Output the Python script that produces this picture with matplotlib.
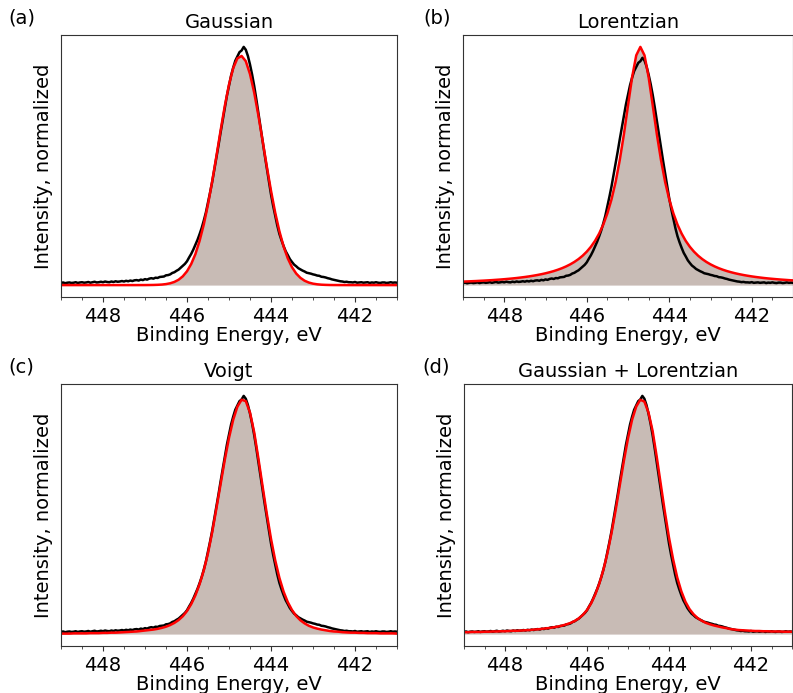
import matplotlib
matplotlib.use("Agg")
import matplotlib.pyplot as plt
from matplotlib.ticker import MultipleLocator

# Binding energy grids (eV)
energy = [round(449.0 - 0.1 * i, 2) for i in range(81)]        # fits
energy_meas = [round(449.0 - 0.05 * i, 2) for i in range(161)]  # measured spectrum

measured = [
    0.009, 0.011, 0.008, 0.010, 0.011, 0.009, 0.010, 0.012, 0.009, 0.011,
    0.012, 0.010, 0.011, 0.013, 0.010, 0.012, 0.014, 0.011, 0.012, 0.014,
    0.012, 0.015, 0.013, 0.012, 0.015, 0.013, 0.016, 0.014, 0.015, 0.017,
    0.015, 0.018, 0.016, 0.019, 0.017, 0.020, 0.021, 0.019, 0.023, 0.021,
    0.025, 0.023, 0.027, 0.029, 0.027, 0.031, 0.030, 0.034, 0.035, 0.036,
    0.041, 0.042, 0.045, 0.051, 0.054, 0.060, 0.065, 0.073, 0.081, 0.089,
    0.100, 0.116, 0.131, 0.149, 0.169, 0.190, 0.214, 0.240, 0.271, 0.305,
    0.346, 0.389, 0.434, 0.486, 0.536, 0.587, 0.641, 0.692, 0.744, 0.795,
    0.838, 0.880, 0.913, 0.942, 0.960, 0.978, 0.985, 1.000, 0.988, 0.962,
    0.926, 0.884, 0.836, 0.781, 0.722, 0.665, 0.606, 0.547, 0.491, 0.434,
    0.381, 0.334, 0.291, 0.250, 0.215, 0.188, 0.164, 0.142, 0.126, 0.109,
    0.097, 0.086, 0.079, 0.071, 0.066, 0.061, 0.057, 0.052, 0.050, 0.048,
    0.045, 0.043, 0.040, 0.039, 0.035, 0.034, 0.032, 0.029, 0.027, 0.024,
    0.022, 0.020, 0.018, 0.016, 0.015, 0.013, 0.014, 0.012, 0.012, 0.011,
    0.013, 0.010, 0.011, 0.012, 0.010, 0.011, 0.012, 0.009, 0.011, 0.010,
    0.012, 0.010, 0.009, 0.011, 0.011, 0.009, 0.010, 0.012, 0.010, 0.011,
    0.010,
]

# Fitted curves
fit_gauss = [
    0.0, 0.0, 0.0, 0.0, 0.0, 0.0, 0.0, 0.0, 0.0, 0.0,
    0.0, 0.0, 0.0, 0.0, 0.0, 0.0, 0.0, 0.0, 0.0, 0.0001,
    0.0001, 0.0003, 0.0006, 0.0012, 0.0022, 0.0042, 0.0076, 0.0133, 0.0225, 0.0368,
    0.058, 0.0885, 0.130, 0.186, 0.255, 0.339, 0.436, 0.541, 0.649, 0.752,
    0.842, 0.911, 0.952, 0.962, 0.940, 0.886, 0.808, 0.712, 0.606, 0.498,
    0.396, 0.304, 0.226, 0.162, 0.112, 0.075, 0.0485, 0.0304, 0.0183, 0.0107,
    0.0060, 0.0033, 0.0017, 0.0009, 0.0004, 0.0002, 0.0001, 0.0001, 0.0, 0.0,
    0.0, 0.0, 0.0, 0.0, 0.0, 0.0, 0.0, 0.0, 0.0, 0.0,
    0.0,
]

fit_lorentz = [
    0.0154, 0.0161, 0.0169, 0.0177, 0.0187, 0.0196, 0.0207, 0.0218, 0.0231, 0.0244,
    0.0259, 0.0275, 0.0292, 0.0311, 0.0333, 0.0356, 0.0382, 0.0411, 0.0443, 0.0479,
    0.0519, 0.0565, 0.0616, 0.0676, 0.0743, 0.0822, 0.0913, 0.1019, 0.1144, 0.1292,
    0.1470, 0.1684, 0.1944, 0.2265, 0.266, 0.3155, 0.377, 0.454, 0.550, 0.663,
    0.790, 0.915, 1.011, 1.048, 1.011, 0.915, 0.790, 0.663, 0.550, 0.454,
    0.377, 0.3155, 0.266, 0.2265, 0.1944, 0.1684, 0.1470, 0.1292, 0.1144, 0.1019,
    0.0913, 0.0822, 0.0743, 0.0676, 0.0616, 0.0565, 0.0519, 0.0479, 0.0443, 0.0411,
    0.0382, 0.0356, 0.0333, 0.0311, 0.0292, 0.0275, 0.0259, 0.0244, 0.0231, 0.0218,
    0.0207,
]

fit_voigt = [
    0.002, 0.002, 0.002, 0.003, 0.003, 0.003, 0.003, 0.004, 0.004, 0.004,
    0.005, 0.005, 0.006, 0.006, 0.007, 0.008, 0.009, 0.010, 0.011, 0.013,
    0.015, 0.017, 0.019, 0.022, 0.026, 0.031, 0.038, 0.047, 0.059, 0.075,
    0.097, 0.126, 0.163, 0.210, 0.268, 0.340, 0.428, 0.528, 0.630, 0.732,
    0.824, 0.900, 0.955, 0.984, 0.978, 0.930, 0.847, 0.737, 0.620, 0.505,
    0.400, 0.310, 0.236, 0.178, 0.134, 0.101, 0.076, 0.058, 0.045, 0.035,
    0.028, 0.023, 0.019, 0.016, 0.013, 0.011, 0.010, 0.008, 0.007, 0.006,
    0.006, 0.005, 0.005, 0.004, 0.004, 0.004, 0.003, 0.003, 0.003, 0.003,
    0.002,
]

fit_gl = [
    0.008, 0.008, 0.009, 0.009, 0.009, 0.010, 0.010, 0.011, 0.011, 0.012,
    0.012, 0.013, 0.014, 0.014, 0.015, 0.016, 0.017, 0.019, 0.020, 0.022,
    0.024, 0.026, 0.029, 0.032, 0.036, 0.041, 0.047, 0.055, 0.066, 0.081,
    0.101, 0.129, 0.166, 0.212, 0.270, 0.341, 0.426, 0.522, 0.625, 0.728,
    0.822, 0.900, 0.955, 0.984, 0.976, 0.930, 0.853, 0.745, 0.628, 0.512,
    0.405, 0.314, 0.238, 0.180, 0.136, 0.105, 0.083, 0.067, 0.056, 0.047,
    0.041, 0.036, 0.032, 0.028, 0.025, 0.021, 0.019, 0.017, 0.016, 0.015,
    0.014, 0.013, 0.013, 0.012, 0.012, 0.011, 0.011, 0.011, 0.010, 0.010,
    0.010,
]

titles = ["Gaussian", "Lorentzian", "Voigt", "Gaussian + Lorentzian"]
panel_labels = ["(a)", "(b)", "(c)", "(d)"]
fits = [fit_gauss, fit_lorentz, fit_voigt, fit_gl]

W, H = 793, 693
fig = plt.figure(figsize=(W / 100, H / 100), dpi=100)

# axes boxes in pixels: left, top, right, bottom
boxes = [(61, 35, 397, 297), (463, 35, 793, 297),
         (61, 384, 397, 646), (464, 384, 792, 646)]
label_x = [8, 423, 8, 422]

fill_color = "#c8bbb5"
spine_color = "#333333"
fs = 14

for k in range(4):
    l, t, r, b = boxes[k]
    ax = fig.add_axes([l / W, (H - b) / H, (r - l) / W, (b - t) / H])
    ax.fill_between(energy, fits[k], 0, color=fill_color, lw=0)
    ax.plot(energy_meas, measured, color="black", lw=1.8)
    ax.plot(energy, fits[k], color="red", lw=1.8)
    ax.set_xlim(449, 441)
    ax.xaxis.set_major_locator(MultipleLocator(2))
    ax.xaxis.set_minor_locator(MultipleLocator(0.5))
    ax.set_yticks([])
    ax.tick_params(axis="x", labelsize=fs, colors=spine_color, labelcolor="black", pad=3.5)
    ax.tick_params(axis="x", which="minor", colors=spine_color)
    for s in ax.spines.values():
        s.set_color(spine_color)
    ax.set_xlabel("Binding Energy, eV", fontsize=fs, labelpad=0.5)
    ax.set_ylabel("Intensity, normalized", fontsize=fs, labelpad=6)
    ax.set_title(titles[k], fontsize=fs, pad=5)
    fig.text(label_x[k] / W, 1 - (t - 17) / H, panel_labels[k], fontsize=fs,
             ha="left", va="center")

fig.savefig("out.png", dpi=100)
